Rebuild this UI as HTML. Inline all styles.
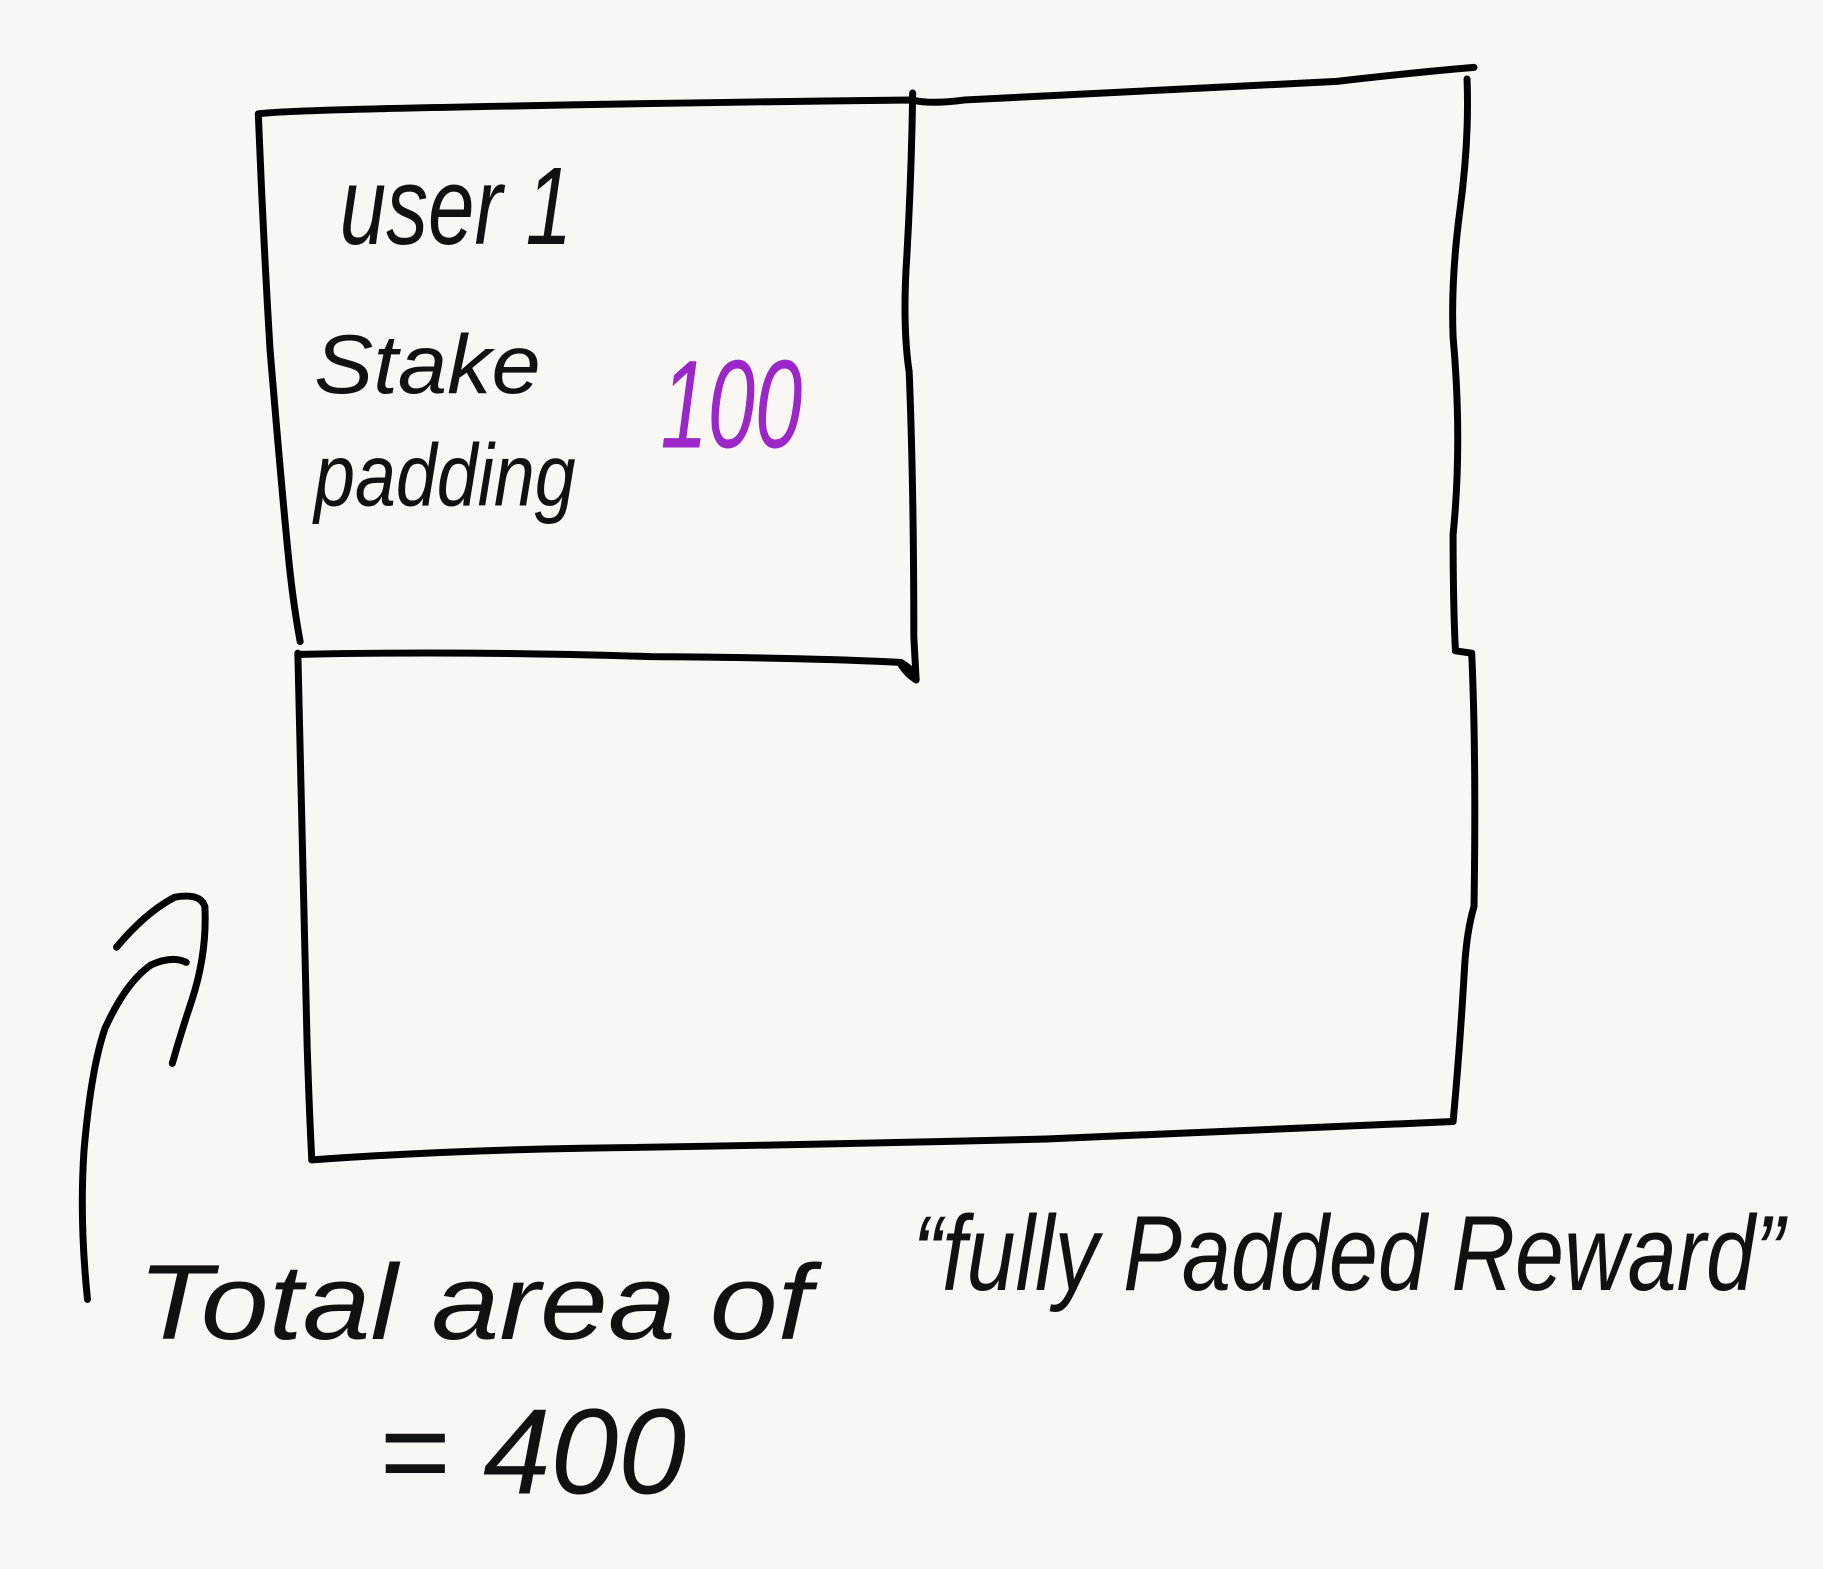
<!DOCTYPE html>
<html><head><meta charset="utf-8"><style>
html,body{margin:0;padding:0;background:#f8f7f3;}
svg{display:block}
text{font-family:"Liberation Sans Narrow","Liberation Sans",sans-serif;font-style:italic;fill:#111}
</style></head><body>
<svg width="1823" height="1569" viewBox="0 0 1568 1350" xmlns="http://www.w3.org/2000/svg">
<rect x="0" y="0" width="1568" height="1350" fill="#f8f7f3"/>
<g fill="none" stroke="#000" stroke-width="6" stroke-linecap="round" stroke-linejoin="round">
<path d="M222,98 Q240,95 400,92 Q600,88 785,86 Q800,90 830,86 Q1000,78 1150,70 Q1220,62 1268,58"/>
<path d="M1262,68 Q1264,120 1256,180 Q1248,240 1250,290 Q1258,380 1250,460 Q1250,520 1252,560 L1266,562 Q1270,650 1268,780 Q1262,800 1260,830 Q1256,900 1250,965"/>
<path d="M1250,965 Q1100,972 900,980 Q700,985 500,988 Q380,990 268,998"/>
<path d="M268,998 Q266,960 264,900 Q260,750 256,562"/>
<path d="M222,98 Q226,200 232,300 Q242,420 248,480 Q252,520 258,552"/>
<path d="M258,563 Q400,560 560,565 Q700,566 775,570 Q788,578 788,585 Q780,580 775,572"/>
<path d="M785,80 Q784,150 780,220 Q776,280 782,320 Q786,420 786,548 L788,585"/>
<path d="M75,1118 Q68,1050 72,990 Q78,920 90,885 Q108,845 130,830 Q148,822 160,828"/>
<path d="M100,815 Q125,785 150,772 Q172,768 176,780 Q178,820 165,860 Q155,890 148,915"/>
</g>
<text x="292" y="210" font-size="95" textLength="200" lengthAdjust="spacingAndGlyphs">user 1</text>
<text x="270" y="338" font-size="72" textLength="195" lengthAdjust="spacingAndGlyphs">Stake</text>
<text x="270" y="435" font-size="76" textLength="225" lengthAdjust="spacingAndGlyphs">padding</text>
<text x="568" y="385" font-size="108" textLength="122" lengthAdjust="spacingAndGlyphs" style="fill:#9b27c9">100</text>
<text x="118" y="1152" font-size="92" textLength="580" lengthAdjust="spacingAndGlyphs">Total  area  of</text>
<text x="785" y="1110" font-size="92" textLength="750" lengthAdjust="spacingAndGlyphs">“fully Padded Reward”</text>
<text x="325" y="1285" font-size="105" textLength="265" lengthAdjust="spacingAndGlyphs">= 400</text>
</svg>
</body></html>
